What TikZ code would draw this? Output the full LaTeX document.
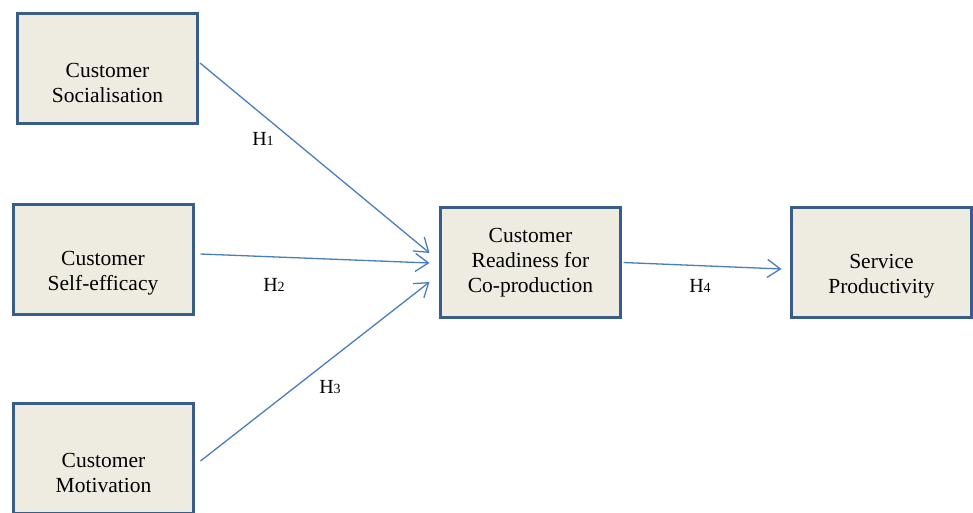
\documentclass[tikz,border=0pt]{standalone}
\usepackage{fontspec}
\setmainfont{Liberation Serif}
\usetikzlibrary{positioning, arrows.meta}

\definecolor{boxline}{HTML}{385D8A}
\definecolor{boxfill}{HTML}{EEECE1}
\definecolor{arrline}{HTML}{4A7EBB}

\tikzset{
    box/.style={draw=boxline, fill=boxfill, line width=3pt,
        minimum width=180pt, minimum height=110pt, align=center,
        font=\fontsize{21.5}{25}\selectfont},
    link/.style={draw=arrline, line width=1.3pt,
        -{Straight Barb[length=13pt, width=18pt, line width=1.3pt]}},
    hyp/.style={font=\fontsize{20}{22}\selectfont}
}

\newcommand{\hsub}[1]{H{\fontsize{14}{16}\selectfont #1}}

\begin{document}
\begin{tikzpicture}[x=1pt, y=-1pt]
        \useasboundingbox (0,0) rectangle (973,512);

        \node[box] (box 1) at (107.5,68.5) {\strut\\Customer\\Socialisation};
        \node[box, below=78pt of box 1, xshift=-4.5pt] (box 2) {\strut\\Customer\\Self-efficacy};
        \node[box, below=86pt of box 2, xshift=0.5pt] (box 3) {\strut\\Customer\\Motivation};

        \node[box, right=244.5pt of box 2, yshift=-3pt] (box 4) {Customer\\Readiness for\\Co-production};
        \node[box, right=168pt of box 4] (box 5) {\strut\\Service\\Productivity};

        \node[hyp] (h 1) at (263,139) {\hsub{1}};
        \node[hyp] (h 2) at (274,285) {\hsub{2}};
        \node[hyp] (h 3) at (330,387) {\hsub{3}};
        \node[hyp] (h 4) at (700,286) {\hsub{4}};

        \draw[link] ([xshift=1pt, yshift=5.5pt]box 1.east) -- ([xshift=-9.5pt, yshift=9.5pt]box 4.west);
        \draw[link] ([xshift=6pt, yshift=5.5pt]box 2.east) -- ([xshift=-9.5pt, yshift=-0.5pt]box 4.west);
        \draw[link] ([xshift=5.5pt, yshift=-2.5pt]box 3.east) -- ([xshift=-9.5pt, yshift=-19.5pt]box 4.west);
        \draw[link] ([xshift=1.5pt]box 4.east) -- ([xshift=-8.5pt, yshift=-6.5pt]box 5.west);

    \end{tikzpicture}
\end{document}
